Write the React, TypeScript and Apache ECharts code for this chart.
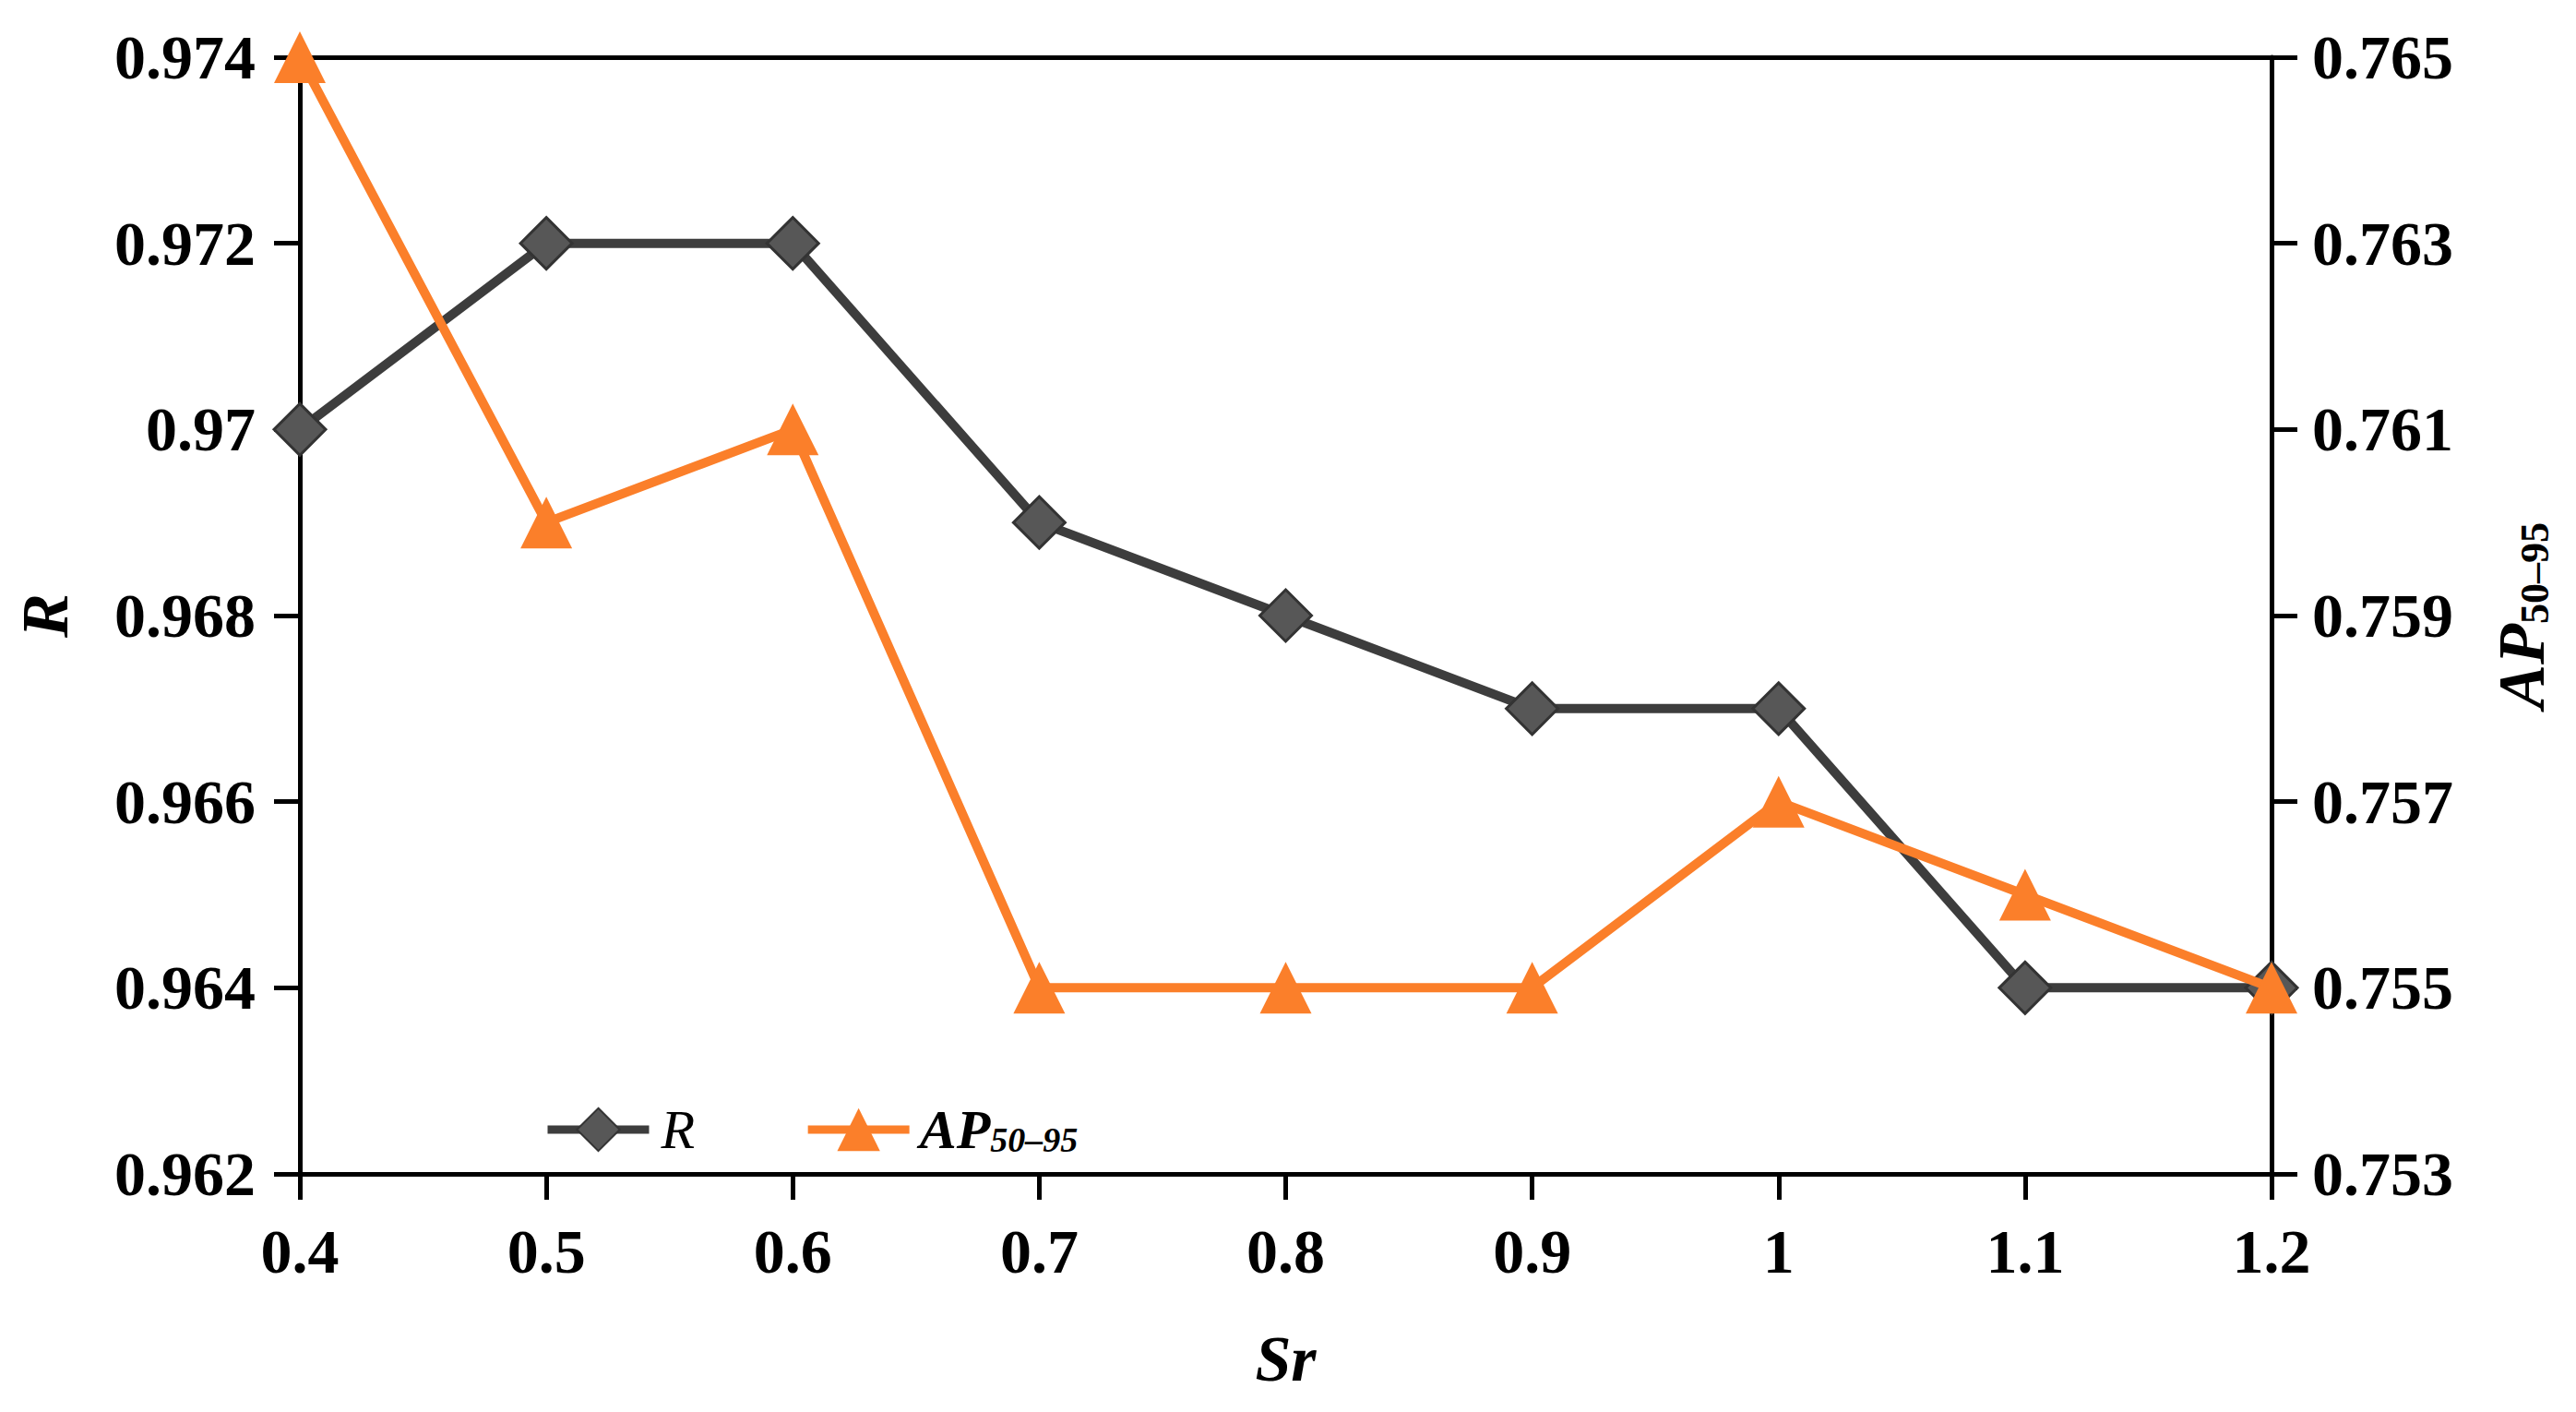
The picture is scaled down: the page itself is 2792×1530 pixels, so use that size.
import React, { useEffect, useRef } from "react";
import * as echarts from "echarts";

const categories = ["0.4", "0.5", "0.6", "0.7", "0.8", "0.9", "1", "1.1", "1.2"];
const rValues = [0.97, 0.972, 0.972, 0.969, 0.968, 0.967, 0.967, 0.964, 0.964];
const apValues = [0.765, 0.76, 0.761, 0.755, 0.755, 0.755, 0.757, 0.756, 0.755];

const FONT = '"Liberation Serif", "Times New Roman", serif';
const GRAY = "#3d3d3d";
const ORANGE = "#fb7f2a";

const App: React.FC = () => {
  const chartRef = useRef<HTMLDivElement | null>(null);

  useEffect(() => {
    document.body.style.margin = "0";
    if (!chartRef.current) return;
    const chart = echarts.init(chartRef.current, undefined, { renderer: "svg" });

    const axisLine = { show: true, lineStyle: { color: "#000", width: 5 } };
    const axisTick = { show: true, inside: false, length: 28, lineStyle: { color: "#000", width: 5 } };
    const tickLabel = { color: "#000", fontFamily: FONT, fontWeight: "bold" as const, fontSize: 68 };

    chart.setOption({
      animation: false,
      backgroundColor: "#fff",
      grid: { left: 325, right: 330, top: 62, bottom: 258 },
      legend: {
        left: 584,
        top: 1189,
        itemWidth: 110,
        itemHeight: 58,
        itemGap: 118,
        lineStyle: { width: 9 },
        data: ["R", "AP50–95"],
        formatter: (name: string) => (name === "R" ? "{r|R}" : "{a|AP}{b|50–95}"),
        textStyle: {
          rich: {
            r: { fontFamily: FONT, fontStyle: "italic", fontSize: 60, lineHeight: 60, color: "#000", padding: [0, 0, 0, 8] },
            a: { fontFamily: FONT, fontStyle: "italic", fontWeight: "bold", fontSize: 60, lineHeight: 60, color: "#000", padding: [0, 0, 0, 6] },
            b: { fontFamily: FONT, fontStyle: "italic", fontWeight: "bold", fontSize: 38, lineHeight: 60, color: "#000", verticalAlign: "bottom" },
          },
        },
      },
      xAxis: [
        {
          type: "category",
          data: categories,
          boundaryGap: false,
          position: "bottom",
          axisLine,
          axisTick: { ...axisTick, alignWithLabel: true },
          axisLabel: { ...tickLabel, margin: 50 },
          splitLine: { show: false },
          name: "Sr",
          nameLocation: "middle",
          nameGap: 165,
          nameTextStyle: { color: "#000", fontFamily: FONT, fontWeight: "bold", fontStyle: "italic", fontSize: 70 },
        },
        {
          type: "category",
          data: categories,
          boundaryGap: false,
          position: "top",
          axisLine,
          axisTick: { show: false },
          axisLabel: { show: false },
          splitLine: { show: false },
        },
      ],
      yAxis: [
        {
          type: "value",
          position: "left",
          min: 0.962,
          max: 0.974,
          interval: 0.002,
          axisLine,
          axisTick,
          axisLabel: { ...tickLabel, margin: 48 },
          splitLine: { show: false },
          name: "R",
          nameLocation: "middle",
          nameGap: 240,
          nameTextStyle: { color: "#000", fontFamily: FONT, fontWeight: "bold", fontStyle: "italic", fontSize: 72 },
        },
        {
          type: "value",
          position: "right",
          min: 0.753,
          max: 0.765,
          interval: 0.002,
          axisLine,
          axisTick,
          axisLabel: { ...tickLabel, margin: 44, formatter: (v: number) => v.toFixed(3) },
          splitLine: { show: false },
          name: "{a|AP}{b|50–95}",
          nameLocation: "middle",
          nameGap: 235,
          nameTextStyle: {
            rich: {
              a: { fontFamily: FONT, fontStyle: "italic", fontWeight: "bold", fontSize: 72, lineHeight: 72, color: "#000" },
              b: { fontFamily: FONT, fontWeight: "bold", fontSize: 44, lineHeight: 72, color: "#000", verticalAlign: "bottom" },
            },
          },
        },
      ],
      series: [
        {
          name: "R",
          type: "line",
          xAxisIndex: 0,
          yAxisIndex: 0,
          data: rValues,
          clip: false,
          symbol: "diamond",
          symbolSize: 56,
          lineStyle: { color: GRAY, width: 10 },
          itemStyle: { color: "#575757", borderColor: "#333", borderWidth: 3 },
          z: 2,
        },
        {
          name: "AP50–95",
          type: "line",
          xAxisIndex: 0,
          yAxisIndex: 1,
          data: apValues,
          clip: false,
          symbol: "triangle",
          symbolSize: 56,
          lineStyle: { color: ORANGE, width: 10 },
          itemStyle: { color: ORANGE },
          z: 3,
        },
      ],
    });

    return () => {
      chart.dispose();
    };
  }, []);

  return <div ref={chartRef} style={{ width: 2792, height: 1530 }} />;
};

export default App;
